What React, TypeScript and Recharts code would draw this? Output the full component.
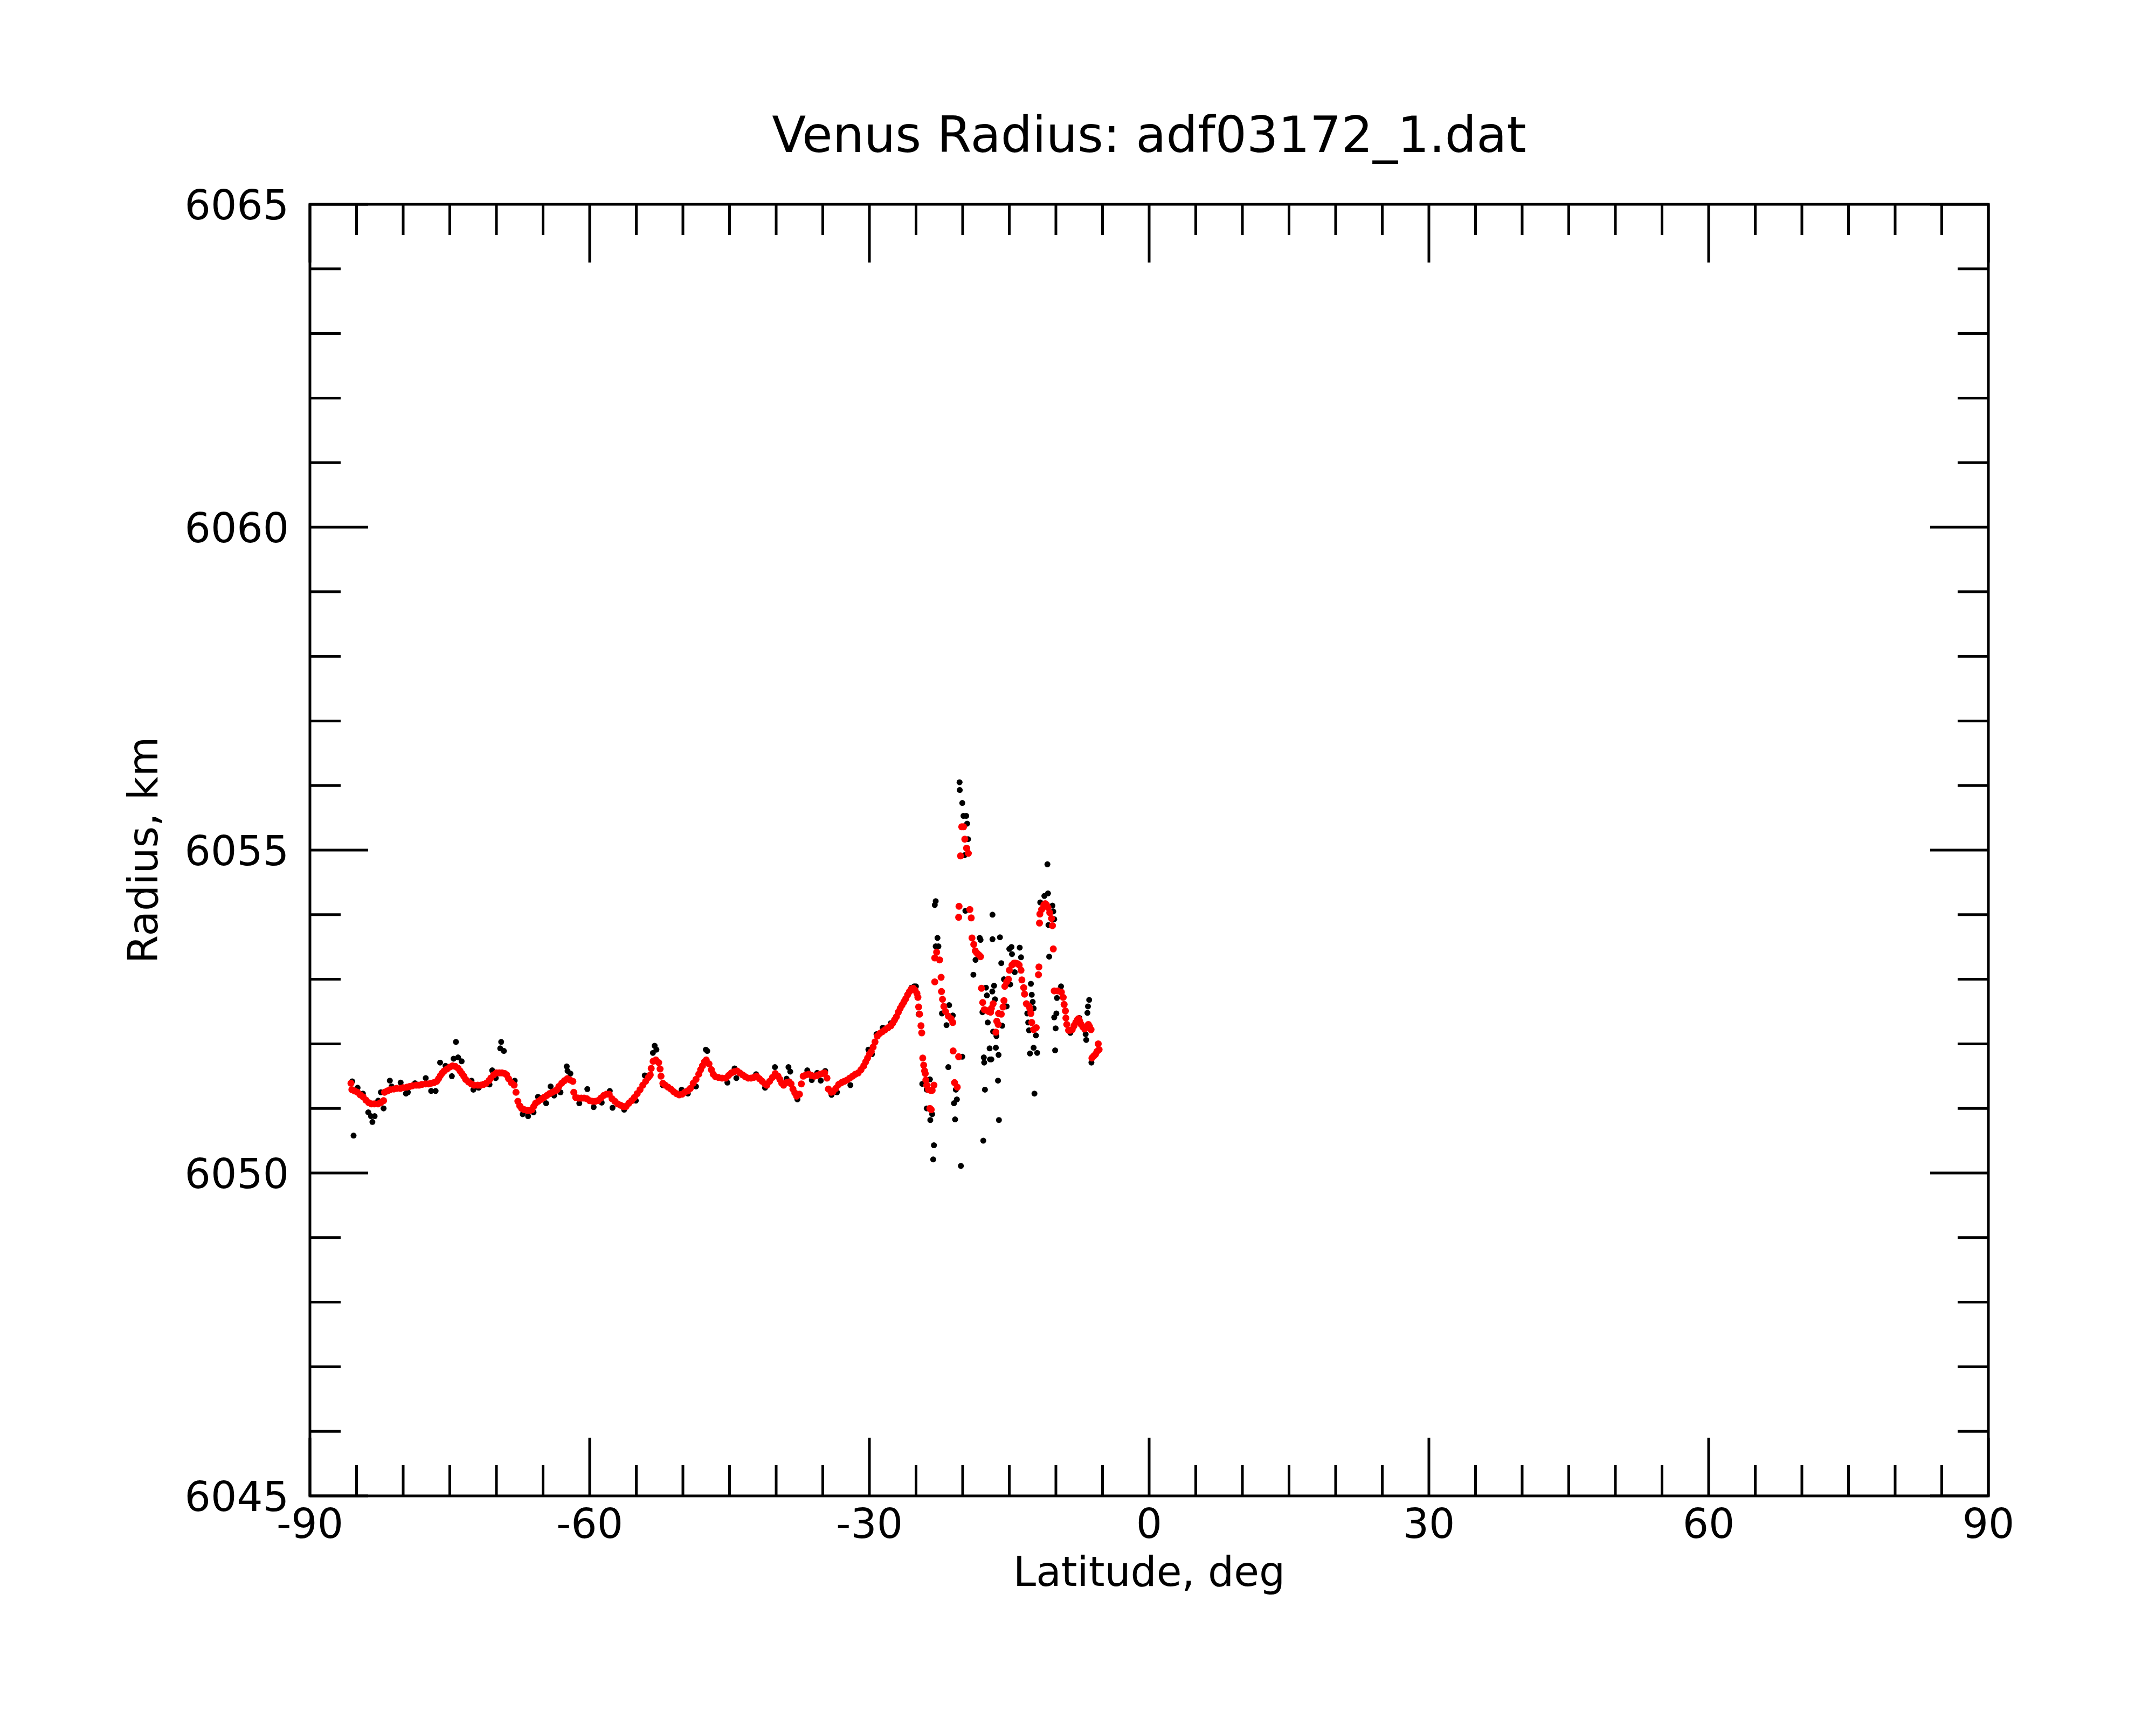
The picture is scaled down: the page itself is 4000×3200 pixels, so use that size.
import { ScatterChart, Scatter, XAxis, YAxis, ReferenceArea } from 'recharts';

// latitude (deg), radius (km)
const smoothed: [number, number][] = [
	[-85.6, 6051.39], [-85.5, 6051.29], [-85.2, 6051.27], [-84.9, 6051.25], [-84.6, 6051.21], [-84.3, 6051.18],
	[-84.0, 6051.13], [-83.7, 6051.09], [-83.4, 6051.07], [-83.1, 6051.07], [-82.7, 6051.07], [-82.4, 6051.09],
	[-82.1, 6051.12], [-82.0, 6051.25], [-81.7, 6051.27], [-81.4, 6051.29], [-81.0, 6051.30], [-80.7, 6051.31],
	[-80.3, 6051.31], [-80.0, 6051.32], [-79.6, 6051.33], [-79.3, 6051.34], [-79.0, 6051.35], [-78.6, 6051.36],
	[-78.3, 6051.36], [-78.0, 6051.37], [-77.6, 6051.38], [-77.3, 6051.38], [-77.0, 6051.39], [-76.7, 6051.40],
	[-76.4, 6051.42], [-76.2, 6051.46], [-76.0, 6051.51], [-75.8, 6051.55], [-75.6, 6051.58], [-75.3, 6051.61],
	[-75.0, 6051.64], [-74.7, 6051.66], [-74.4, 6051.65], [-74.1, 6051.62], [-73.9, 6051.58], [-73.7, 6051.54],
	[-73.5, 6051.50], [-73.3, 6051.45], [-73.0, 6051.41], [-72.7, 6051.38], [-72.4, 6051.36], [-72.0, 6051.36],
	[-71.7, 6051.36], [-71.4, 6051.37], [-71.1, 6051.39], [-70.8, 6051.43], [-70.6, 6051.47], [-70.3, 6051.52],
	[-70.0, 6051.55], [-69.7, 6051.55], [-69.4, 6051.55], [-69.1, 6051.54], [-68.9, 6051.52], [-68.7, 6051.46],
	[-68.4, 6051.40], [-68.1, 6051.36], [-67.9, 6051.25], [-67.7, 6051.11], [-67.5, 6051.04], [-67.3, 6051.00],
	[-67.0, 6050.98], [-66.7, 6050.97], [-66.4, 6050.97], [-66.2, 6050.98], [-66.0, 6051.03], [-65.8, 6051.08],
	[-65.5, 6051.11], [-65.2, 6051.14], [-64.9, 6051.17], [-64.6, 6051.20], [-64.3, 6051.23], [-64.0, 6051.25],
	[-63.7, 6051.27], [-63.5, 6051.29], [-63.3, 6051.34], [-63.0, 6051.39], [-62.7, 6051.43], [-62.4, 6051.46],
	[-62.1, 6051.44], [-61.8, 6051.42], [-61.7, 6051.25], [-61.5, 6051.17], [-61.2, 6051.16], [-60.9, 6051.16],
	[-60.6, 6051.16], [-60.3, 6051.15], [-60.0, 6051.12], [-59.7, 6051.11], [-59.4, 6051.11], [-59.1, 6051.12],
	[-58.8, 6051.16], [-58.5, 6051.20], [-58.2, 6051.22], [-57.9, 6051.22], [-57.6, 6051.15], [-57.3, 6051.11],
	[-57.0, 6051.07], [-56.7, 6051.05], [-56.4, 6051.03], [-56.1, 6051.03], [-55.8, 6051.08], [-55.5, 6051.12],
	[-55.2, 6051.17], [-54.9, 6051.23], [-54.6, 6051.29], [-54.3, 6051.36], [-54.0, 6051.42], [-53.7, 6051.48],
	[-53.5, 6051.52], [-53.4, 6051.62], [-53.2, 6051.73], [-52.9, 6051.75], [-52.6, 6051.71], [-52.45, 6051.61],
	[-52.35, 6051.50], [-52.15, 6051.39], [-51.9, 6051.36], [-51.6, 6051.33], [-51.3, 6051.30], [-51.0, 6051.26],
	[-50.7, 6051.23], [-50.4, 6051.21], [-50.1, 6051.22], [-49.8, 6051.25], [-49.5, 6051.27], [-49.2, 6051.31],
	[-48.9, 6051.39], [-48.6, 6051.45], [-48.3, 6051.53], [-48.1, 6051.60], [-47.9, 6051.66], [-47.7, 6051.72],
	[-47.5, 6051.75], [-47.2, 6051.69], [-46.95, 6051.60], [-46.75, 6051.53], [-46.5, 6051.49], [-46.2, 6051.48],
	[-45.8, 6051.47], [-45.4, 6051.47], [-45.1, 6051.51], [-44.8, 6051.55], [-44.5, 6051.57], [-44.2, 6051.58],
	[-43.9, 6051.55], [-43.6, 6051.52], [-43.3, 6051.49], [-43.0, 6051.47], [-42.7, 6051.47], [-42.4, 6051.48],
	[-42.1, 6051.50], [-41.8, 6051.46], [-41.5, 6051.42], [-41.2, 6051.38], [-41.0, 6051.36], [-40.7, 6051.42],
	[-40.4, 6051.48], [-40.1, 6051.54], [-39.8, 6051.50], [-39.6, 6051.45], [-39.4, 6051.39], [-39.2, 6051.36],
	[-38.9, 6051.40], [-38.6, 6051.41], [-38.4, 6051.38], [-38.2, 6051.30], [-38.0, 6051.24], [-37.8, 6051.19],
	[-37.5, 6051.22], [-37.3, 6051.38], [-37.1, 6051.50], [-36.8, 6051.52], [-36.5, 6051.53], [-36.2, 6051.51],
	[-35.9, 6051.50], [-35.6, 6051.51], [-35.3, 6051.53], [-35.0, 6051.54], [-34.8, 6051.55], [-34.55, 6051.47],
	[-34.4, 6051.30], [-34.1, 6051.25], [-33.9, 6051.26], [-33.6, 6051.31], [-33.3, 6051.37], [-33.0, 6051.40],
	[-32.7, 6051.42], [-32.4, 6051.44], [-32.1, 6051.47], [-31.8, 6051.50], [-31.5, 6051.53], [-31.2, 6051.55],
	[-30.9, 6051.60], [-30.6, 6051.66], [-30.4, 6051.72], [-30.2, 6051.78], [-30.0, 6051.84], [-29.8, 6051.88],
	[-29.6, 6051.95], [-29.4, 6052.03], [-29.15, 6052.12], [-28.9, 6052.16], [-28.6, 6052.19], [-28.3, 6052.22],
	[-28.0, 6052.25], [-27.7, 6052.28], [-27.5, 6052.32], [-27.3, 6052.37], [-27.1, 6052.42], [-26.9, 6052.49],
	[-26.7, 6052.55], [-26.5, 6052.60], [-26.3, 6052.65], [-26.1, 6052.70], [-25.9, 6052.76], [-25.7, 6052.81],
	[-25.5, 6052.85], [-25.3, 6052.86], [-25.1, 6052.83], [-24.9, 6052.78], [-24.8, 6052.72], [-24.72, 6052.57],
	[-24.62, 6052.46], [-24.47, 6052.28], [-24.39, 6052.17], [-24.28, 6051.78], [-24.18, 6051.67], [-24.08, 6051.58],
	[-24.01, 6051.54], [-23.95, 6051.44], [-23.85, 6051.36], [-23.66, 6051.29], [-23.51, 6051.0], [-23.45, 6051.28],
	[-23.37, 6050.98], [-23.27, 6051.28], [-23.08, 6051.36], [-22.99, 6052.96], [-22.99, 6053.33], [-22.79, 6053.42],
	[-22.47, 6053.30], [-22.31, 6053.03], [-22.27, 6052.81], [-22.16, 6052.69], [-22.02, 6052.58], [-21.83, 6052.50],
	[-21.54, 6052.43], [-21.25, 6052.39], [-21.06, 6052.33], [-21.02, 6051.89], [-20.87, 6051.40], [-20.58, 6051.33],
	[-20.43, 6051.80], [-20.43, 6053.96], [-20.39, 6054.13], [-20.23, 6054.91], [-20.1, 6055.36], [-19.9, 6055.36],
	[-19.77, 6055.17], [-19.58, 6055.03], [-19.39, 6054.95], [-19.23, 6054.08], [-19.08, 6053.95], [-19.0, 6053.64],
	[-18.81, 6053.54], [-18.65, 6053.44], [-18.5, 6053.41], [-18.37, 6053.39], [-18.2, 6053.37], [-18.08, 6053.35],
	[-17.98, 6052.86], [-17.85, 6052.64], [-17.69, 6052.53], [-17.5, 6052.52], [-17.21, 6052.50], [-17.0, 6052.49],
	[-16.92, 6052.55], [-16.73, 6052.62], [-16.44, 6052.18], [-16.34, 6052.35], [-16.19, 6052.30], [-16.15, 6052.47],
	[-15.86, 6052.46], [-15.67, 6052.57], [-15.57, 6052.67], [-15.48, 6052.89], [-15.28, 6052.96], [-15.09, 6053.0],
	[-14.99, 6053.14], [-14.71, 6053.22], [-14.5, 6053.25], [-14.32, 6053.25], [-14.1, 6053.24], [-13.94, 6053.22],
	[-13.74, 6053.14], [-13.65, 6052.99], [-13.45, 6052.87], [-13.36, 6052.77], [-13.17, 6052.62], [-12.88, 6052.58],
	[-12.78, 6052.54], [-12.68, 6052.47], [-12.59, 6052.33], [-12.39, 6052.22], [-12.11, 6052.25], [-11.87, 6053.07],
	[-11.82, 6053.19], [-11.76, 6053.87], [-11.72, 6054.01], [-11.53, 6054.08], [-11.3, 6054.15], [-11.14, 6054.17],
	[-11.0, 6054.15], [-10.85, 6054.11], [-10.66, 6054.03], [-10.47, 6053.94], [-10.37, 6053.83], [-10.28, 6053.47],
	[-10.18, 6052.82], [-9.8, 6052.82], [-9.41, 6052.80], [-9.22, 6052.72], [-9.12, 6052.61], [-8.98, 6052.51],
	[-8.93, 6052.40], [-8.83, 6052.30], [-8.64, 6052.21], [-8.45, 6052.21], [-8.25, 6052.22], [-8.05, 6052.28],
	[-7.87, 6052.33], [-7.7, 6052.37], [-7.58, 6052.39], [-7.45, 6052.35], [-7.29, 6052.30], [-7.1, 6052.26],
	[-6.91, 6052.23], [-6.7, 6052.27], [-6.52, 6052.30], [-6.4, 6052.27], [-6.23, 6052.22], [-6.14, 6051.78],
	[-5.95, 6051.81], [-5.75, 6051.84], [-5.6, 6051.88], [-5.46, 6052.0], [-5.37, 6051.91],
];

const measured: [number, number][] = [
	[-85.47, 6051.42], [-85.32, 6050.58], [-84.89, 6051.32], [-84.32, 6051.23], [-83.74, 6050.94], [-83.45, 6050.88],
	[-83.3, 6050.79], [-83.06, 6050.88], [-82.68, 6051.12], [-82.39, 6051.25], [-82.1, 6051.0], [-81.43, 6051.43],
	[-81.24, 6051.34], [-80.27, 6051.40], [-79.7, 6051.23], [-79.5, 6051.25], [-78.73, 6051.39], [-77.58, 6051.47],
	[-77.0, 6051.27], [-76.52, 6051.27], [-76.04, 6051.71], [-75.46, 6051.66], [-74.78, 6051.50], [-74.59, 6051.77],
	[-74.34, 6052.03], [-74.11, 6051.79], [-73.73, 6051.73], [-72.67, 6051.43], [-72.47, 6051.29], [-71.9, 6051.32],
	[-70.74, 6051.37], [-70.45, 6051.59], [-70.07, 6051.47], [-69.59, 6051.93], [-69.49, 6052.03], [-69.2, 6051.89],
	[-68.04, 6051.43], [-67.18, 6050.91], [-66.6, 6050.88], [-66.02, 6050.94], [-65.54, 6051.18], [-64.67, 6051.08],
	[-64.19, 6051.34], [-63.81, 6051.20], [-63.13, 6051.25], [-62.46, 6051.65], [-62.37, 6051.58], [-62.07, 6051.54],
	[-61.11, 6051.08], [-60.25, 6051.30], [-59.57, 6051.02], [-58.71, 6051.09], [-57.84, 6051.27], [-57.55, 6051.01],
	[-56.3, 6050.98], [-55.05, 6051.12], [-54.09, 6051.51], [-53.22, 6051.86], [-53.03, 6051.97], [-52.84, 6051.91],
	[-52.16, 6051.36], [-50.14, 6051.29], [-49.47, 6051.23], [-48.6, 6051.34], [-47.54, 6051.91], [-47.39, 6051.89],
	[-45.23, 6051.40], [-44.46, 6051.62], [-44.27, 6051.47], [-42.15, 6051.53], [-41.19, 6051.32], [-40.13, 6051.64],
	[-38.88, 6051.46], [-38.68, 6051.64], [-38.49, 6051.57], [-37.72, 6051.14], [-36.66, 6051.59], [-36.18, 6051.44],
	[-35.6, 6051.55], [-35.22, 6051.43], [-34.74, 6051.58], [-34.06, 6051.21], [-33.48, 6051.25], [-32.14, 6051.47],
	[-32.04, 6051.36], [-30.11, 6051.91], [-29.73, 6051.84], [-29.24, 6052.15], [-28.57, 6052.25], [-27.7, 6052.32],
	[-25.49, 6052.87], [-25.2, 6052.89], [-25.01, 6052.89], [-24.72, 6052.46], [-24.33, 6051.38], [-23.85, 6051.29],
	[-23.85, 6051.0], [-23.51, 6051.45], [-23.47, 6050.82], [-23.27, 6050.91], [-23.16, 6050.21], [-23.08, 6050.43],
	[-22.99, 6054.15], [-22.89, 6054.21], [-22.89, 6053.51], [-22.7, 6053.64], [-22.6, 6053.51], [-22.22, 6052.47],
	[-21.73, 6052.29], [-21.54, 6051.64], [-21.45, 6052.60], [-21.06, 6052.44], [-20.93, 6051.08], [-20.81, 6050.83],
	[-20.73, 6051.29], [-20.62, 6051.14], [-20.39, 6053.96], [-20.33, 6056.05], [-20.31, 6055.93], [-20.19, 6050.11],
	[-20.04, 6055.73], [-20.04, 6051.80], [-19.91, 6055.53], [-19.81, 6054.92], [-19.71, 6054.06], [-19.62, 6055.53],
	[-19.52, 6055.41], [-19.52, 6055.03], [-19.42, 6055.17], [-18.85, 6053.07], [-18.62, 6053.30], [-18.17, 6053.64],
	[-18.08, 6053.61], [-17.88, 6052.49], [-17.79, 6050.50], [-17.73, 6051.79], [-17.69, 6051.71], [-17.61, 6051.29],
	[-17.5, 6052.87], [-17.4, 6052.75], [-17.31, 6052.33], [-17.11, 6051.93], [-17.07, 6051.76], [-16.92, 6051.76],
	[-16.82, 6052.81], [-16.8, 6053.62], [-16.8, 6054.0], [-16.73, 6052.19], [-16.63, 6052.90], [-16.53, 6052.69],
	[-16.44, 6051.94], [-16.38, 6052.12], [-16.21, 6051.43], [-16.15, 6051.83], [-16.11, 6050.82], [-16.0, 6053.65],
	[-15.86, 6053.25], [-15.76, 6052.28], [-15.57, 6053.0], [-15.28, 6052.58], [-15.0, 6053.47], [-14.9, 6052.92],
	[-14.76, 6053.50], [-14.71, 6053.39], [-14.42, 6053.11], [-13.88, 6053.49], [-13.74, 6053.34], [-13.07, 6052.47],
	[-12.97, 6052.33], [-12.88, 6052.21], [-12.78, 6051.85], [-12.68, 6052.93], [-12.59, 6052.76], [-12.49, 6052.65],
	[-12.39, 6052.55], [-12.39, 6051.94], [-12.3, 6051.23], [-12.14, 6052.13], [-12.01, 6051.86], [-11.68, 6054.19],
	[-11.24, 6054.29], [-10.91, 6054.78], [-10.85, 6054.33], [-10.8, 6053.84], [-10.72, 6053.35], [-10.37, 6054.14],
	[-10.28, 6054.05], [-10.18, 6053.93], [-10.18, 6052.41], [-10.08, 6051.90], [-10.03, 6052.24], [-9.95, 6052.47],
	[-9.89, 6052.71], [-9.45, 6052.89], [-8.45, 6052.17], [-7.48, 6052.40], [-6.81, 6052.15], [-6.75, 6052.06],
	[-6.62, 6052.48], [-6.56, 6052.58], [-6.43, 6052.68], [-6.19, 6051.71],
];

const xTicks = [-90, -85, -80, -75, -70, -65, -60, -55, -50, -45, -40, -35, -30, -25, -20, -15, -10, -5,
	0, 5, 10, 15, 20, 25, 30, 35, 40, 45, 50, 55, 60, 65, 70, 75, 80, 85, 90];
const yTicks = [6045, 6046, 6047, 6048, 6049, 6050, 6051, 6052, 6053, 6054, 6055,
	6056, 6057, 6058, 6059, 6060, 6061, 6062, 6063, 6064, 6065];

const W = 3984;
const H = 3184;
const PLOT = { left: 567, top: 371, right: 3681, bottom: 2767 };
const FONT = 'DejaVu Sans';
const MAJOR = 108;
const MINOR = 57;

const toPoints = (rows: [number, number][]) => rows.map(([lat, r]) => ({ lat, r }));

const XTick = (props: any) => {
	const { x, payload } = props;
	const v = payload.value;
	const len = v % 30 === 0 ? MAJOR : MINOR;
	return (
		<g>
			<line x1={x} x2={x} y1={PLOT.bottom} y2={PLOT.bottom - len} stroke="#000" strokeWidth={5} />
			<line x1={x} x2={x} y1={PLOT.top} y2={PLOT.top + len} stroke="#000" strokeWidth={5} />
			{v % 30 === 0 && (
				<text x={x} y={PLOT.bottom + 78} textAnchor="middle" fontSize={76} fontFamily={FONT} fill="#000">
					{v}
				</text>
			)}
		</g>
	);
};

const YTick = (props: any) => {
	const { y, payload } = props;
	const v = payload.value;
	const len = v % 5 === 0 ? MAJOR : MINOR;
	return (
		<g>
			<line x1={PLOT.left} x2={PLOT.left + len} y1={y} y2={y} stroke="#000" strokeWidth={5} />
			<line x1={PLOT.right} x2={PLOT.right - len} y1={y} y2={y} stroke="#000" strokeWidth={5} />
			{v % 5 === 0 && (
				<text x={PLOT.left - 39} y={y + 28} textAnchor="end" fontSize={76} fontFamily={FONT} fill="#000">
					{v}
				</text>
			)}
		</g>
	);
};

const dot = (color: string, r: number) => (props: any) => (
	<circle cx={props.cx} cy={props.cy} r={r} fill={color} />
);

export default function App() {
	const cx = (PLOT.left + PLOT.right) / 2;
	const cy = (PLOT.top + PLOT.bottom) / 2;
	return (
		<ScatterChart
			width={W}
			height={H}
			margin={{ top: PLOT.top, left: PLOT.left - 1, right: W - PLOT.right, bottom: H - PLOT.bottom - 1 }}>
			<XAxis
				type="number"
				dataKey="lat"
				domain={[-90, 90]}
				ticks={xTicks}
				interval={0}
				height={1}
				tickSize={0}
				axisLine={false}
				tick={<XTick />}
			/>
			<YAxis
				type="number"
				dataKey="r"
				domain={[6045, 6065]}
				ticks={yTicks}
				interval={0}
				width={1}
				tickSize={0}
				axisLine={false}
				tick={<YTick />}
			/>
			<ReferenceArea
				x1={-90}
				x2={90}
				y1={6045}
				y2={6065}
				fill="none"
				fillOpacity={0}
				stroke="#000"
				strokeWidth={5}
				strokeOpacity={1}
				ifOverflow="visible"
			/>
			<Scatter data={toPoints(measured)} fill="#000" shape={dot('#000', 5.5)} isAnimationActive={false} />
			<Scatter data={toPoints(smoothed)} fill="#ff0000" shape={dot('#ff0000', 6.5)} isAnimationActive={false} />
			<text x={cx} y={274} textAnchor="middle" fontSize={92} fontFamily={FONT} fill="#000">
				Venus Radius: adf03172_1.dat
			</text>
			<text x={cx} y={2934} textAnchor="middle" fontSize={76} fontFamily={FONT} fill="#000">
				Latitude, deg
			</text>
			<text
				x={284}
				y={cy}
				textAnchor="middle"
				fontSize={76}
				fontFamily={FONT}
				fill="#000"
				transform={`rotate(-90, 284, ${cy})`}>
				Radius, km
			</text>
		</ScatterChart>
	);
}
